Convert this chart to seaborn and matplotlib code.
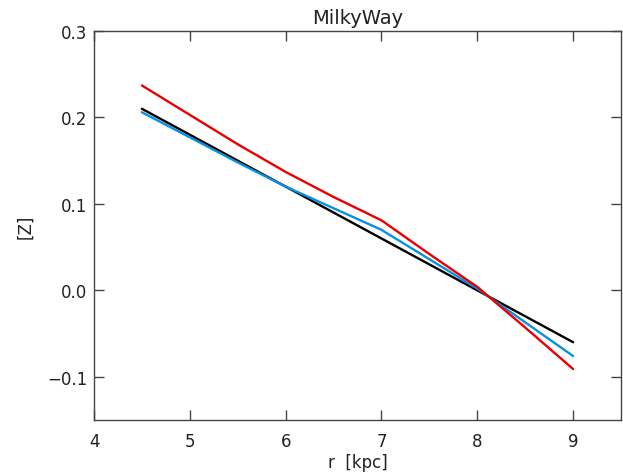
import matplotlib
matplotlib.use("Agg")
import matplotlib.pyplot as plt
import seaborn as sns
import pandas as pd

# data
r_black = [4.5, 9.0]
z_black = [0.210, -0.060]
r_blue = [4.5, 5.0, 5.5, 6.0, 6.5, 7.0, 7.5, 8.0, 8.5, 9.0]
z_blue = [0.206, 0.177, 0.148, 0.120, 0.095, 0.070, 0.036, 0.002, -0.037, -0.076]
r_red = [4.5, 5.0, 5.5, 6.0, 6.5, 7.0, 7.5, 8.0, 8.5, 9.0]
z_red = [0.237, 0.203, 0.169, 0.137, 0.108, 0.081, 0.042, 0.004, -0.043, -0.091]
x_ticks = [4, 5, 6, 7, 8, 9]
y_ticks = [-0.1, 0.0, 0.1, 0.2, 0.3]
y_ticklabels = ["\u22120.1", "0.0", "0.1", "0.2", "0.3"]

df = pd.concat([
    pd.DataFrame({"r": r_black, "z": z_black, "s": "black"}),
    pd.DataFrame({"r": r_blue, "z": z_blue, "s": "blue"}),
    pd.DataFrame({"r": r_red, "z": z_red, "s": "red"}),
], ignore_index=True)

sns.set_style("ticks")
plt.rcParams["font.family"] = ["DejaVu Sans"]

fig = plt.figure(figsize=(6.23, 4.77), dpi=100)
ax = fig.add_axes([94/623, 1-421/477, 527/623, 389/477])
sns.lineplot(data=df, x="r", y="z", hue="s", sort=False, estimator=None,
             palette={"black": "#000000", "blue": "#0A8FE0", "red": "#E80000"},
             linewidth=1.7, legend=False, ax=ax)
ax.set_xlim(4, 9.5)
ax.set_ylim(-0.15, 0.3)
ax.set_xticks(x_ticks)
ax.set_xticklabels([str(t) for t in x_ticks])
ax.set_yticks(y_ticks)
ax.set_yticklabels(y_ticklabels)
tc = "#222222"
ax.tick_params(direction="in", length=7.5, width=1, top=True, right=True,
               labelsize=12, colors="#444444", labelcolor=tc)
ax.tick_params(axis="x", pad=9)
ax.tick_params(axis="y", pad=5)
ax.minorticks_off()
for sp in ax.spines.values():
    sp.set_visible(True)
    sp.set_color("#444444")
    sp.set_linewidth(1)
ax.set_xlabel("r  [kpc]", fontsize=12, color=tc, labelpad=2)
ax.set_ylabel("[Z]", fontsize=12, color=tc, labelpad=9)
ax.set_title("MilkyWay", fontsize=14, color=tc, pad=6)
fig.savefig("out.png", dpi=100)
